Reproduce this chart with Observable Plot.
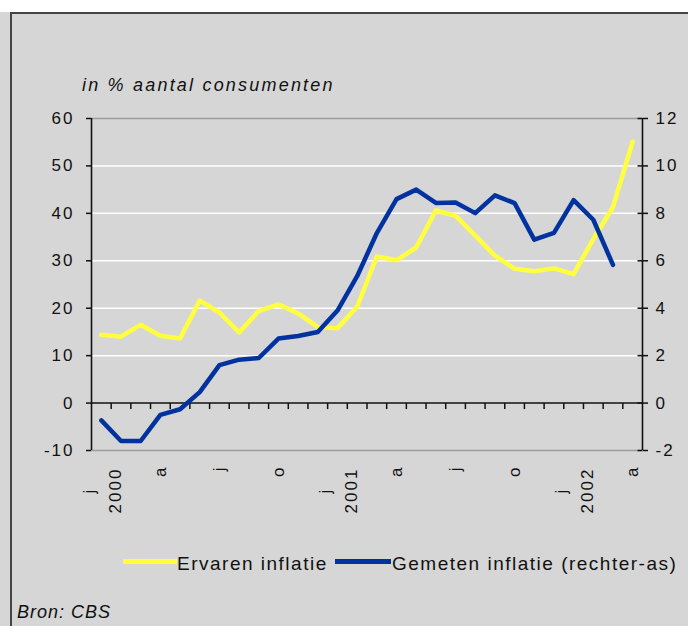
<!DOCTYPE html>
<html>
<head>
<meta charset="utf-8">
<script src="https://cdn.jsdelivr.net/npm/d3@7"></script>
<script src="https://cdn.jsdelivr.net/npm/@observablehq/plot@0.6"></script>
<style>
  html, body { margin: 0; padding: 0; }
  body { width: 688px; height: 626px; background: #d6d6d6; position: relative; overflow: hidden;
         font-family: "Liberation Sans", Arial, sans-serif; }
  #topstrip { position: absolute; left: 0; top: 0; width: 688px; height: 12px; background: #fff; }
  #frame { position: absolute; left: 10px; top: 12px; width: 720px; height: 700px; box-sizing: border-box;
           border-left: 2px solid #444; border-top: 2px solid #444; }
  #chart { position: absolute; left: 0; top: 0; }
  #chart svg text { font-family: "Liberation Sans", Arial, sans-serif; font-size: 17px; letter-spacing: 2px; fill: #111; }
  .t { position: absolute; white-space: nowrap; color: #111; line-height: 1; }
  .sw { position: absolute; height: 5px; }
</style>
</head>
<body>
<div id="topstrip"></div>
<div id="frame"></div>
<div id="chart"></div>
<div class="t" style="left:82px; top:76px; font-size:18px; font-style:italic; letter-spacing:2.2px;">in % aantal consumenten</div>
<div class="sw" style="left:123px; top:559px; width:54px; background:#ffff40;"></div>
<div class="t" style="left:177px; top:554px; font-size:19px; letter-spacing:1.5px;">Ervaren inflatie</div>
<div class="sw" style="left:335px; top:559px; width:56px; background:#0033a0;"></div>
<div class="t" style="left:392px; top:554px; font-size:19px; letter-spacing:1.5px;">Gemeten inflatie (rechter-as)</div>
<div class="t" style="left:17px; top:603px; font-size:18px; font-style:italic; letter-spacing:1px;">Bron: CBS</div>
<script>
// Periods: monthly, January 2000 – April 2002
const periods = [
  "2000-01","2000-02","2000-03","2000-04","2000-05","2000-06","2000-07","2000-08","2000-09","2000-10","2000-11","2000-12",
  "2001-01","2001-02","2001-03","2001-04","2001-05","2001-06","2001-07","2001-08","2001-09","2001-10","2001-11","2001-12",
  "2002-01","2002-02","2002-03","2002-04"
];
// Ervaren inflatie (left axis, % of consumers)
const ervaren = [14.4, 14.0, 16.5, 14.2, 13.6, 21.6, 19.1, 14.9, 19.4, 20.8, 18.9, 16.0,
                 15.8, 20.3, 30.9, 30.1, 32.8, 40.6, 39.5, 35.3, 31.1, 28.3, 27.8, 28.4,
                 27.2, 34.6, 41.3, 55.1];
// Gemeten inflatie (right axis, %)
const gemeten = [-0.73, -1.6, -1.6, -0.5, -0.26, 0.46, 1.6, 1.83, 1.9, 2.72, 2.83, 3.0,
                 3.9, 5.35, 7.17, 8.6, 9.0, 8.44, 8.46, 8.01, 8.76, 8.43, 6.89, 7.18,
                 8.56, 7.73, 5.83];
// Axis ticks
const leftTicks = [-10, 0, 10, 20, 30, 40, 50, 60];
const rightTicks = [-2, 0, 2, 4, 6, 8, 10, 12];
const gridValues = [10, 20, 30, 40, 50];
const labelIdx = [0, 3, 6, 9, 12, 15, 18, 21, 24, 27];
const labelMonth = ["j", "a", "j", "o", "j", "a", "j", "o", "j", "a"];
const yearIdx = [0, 12, 24];
const yearText = ["2000", "2001", "2002"];

const leftDomain = [leftTicks[0], leftTicks[leftTicks.length - 1]];
const rightDomain = [rightTicks[0], rightTicks[rightTicks.length - 1]];
const factor = (leftDomain[1] - leftDomain[0]) / (rightDomain[1] - rightDomain[0]);
const toLeft = v => leftDomain[0] + (v - rightDomain[0]) * factor;
const toRight = v => Math.round((v - leftDomain[0]) / factor + rightDomain[0]);

const n = periods.length;
const bounds = d3.range(1, n);
const ervData = ervaren.map((v, i) => ({i, v}));
const gemData = gemeten.map((v, i) => ({i, v}));
const monthOnly = labelIdx.map((d, k) => k).filter(k => !yearIdx.includes(labelIdx[k]));
const monthWithYear = labelIdx.map((d, k) => k).filter(k => yearIdx.includes(labelIdx[k]));

const tickDown = {draw(ctx) { ctx.moveTo(0, 0); ctx.lineTo(0, 6); }};
const tickIn = {draw(ctx) { ctx.moveTo(-5, 0); ctx.lineTo(0, 0); }};

const ink = "#111";
const chart = Plot.plot({
  width: 688, height: 626,
  marginLeft: 91, marginRight: 46, marginTop: 118, marginBottom: 176,
  style: {background: "transparent", color: ink, overflow: "visible"},
  x: {domain: [0, n], axis: null, label: null},
  y: {domain: leftDomain, axis: null, label: null},
  marks: [
    Plot.ruleY(gridValues, {stroke: "#ffffff", strokeWidth: 1.5}),
    Plot.ruleY(leftDomain, {stroke: "#9c9c9c", strokeWidth: 1.5}),
    Plot.ruleX([0, n], {stroke: ink, strokeWidth: 1.6}),
    Plot.ruleY([0], {stroke: ink, strokeWidth: 1.6}),
    Plot.dot(bounds, {x: d => d, y: 0, symbol: tickDown, stroke: ink, strokeWidth: 1.5, fill: "none"}),
    Plot.axisY({anchor: "left", ticks: leftTicks, tickSize: 5, tickPadding: 12, strokeWidth: 1.5,
      label: null, tickFormat: d => String(d)}),
    Plot.axisY(rightTicks.map(toLeft), {anchor: "right", tickSize: 5, tickPadding: 8, strokeWidth: 1.5,
      label: null, tickFormat: d => String(toRight(d))}),
    Plot.dot(rightTicks, {x: n, y: d => toLeft(d), symbol: tickIn, stroke: ink, strokeWidth: 1.5, fill: "none"}),
    Plot.line(ervData, {x: d => d.i + 0.5, y: d => d.v, stroke: "#ffff40", strokeWidth: 4.5, strokeLinejoin: "round", strokeLinecap: "round"}),
    Plot.line(gemData, {x: d => d.i + 0.5, y: d => toLeft(d.v), stroke: "#0033a0", strokeWidth: 4.5, strokeLinejoin: "round", strokeLinecap: "round"}),
    Plot.text(monthOnly, {x: k => labelIdx[k] + 0.5, text: k => labelMonth[k], frameAnchor: "bottom",
      rotate: -90, textAnchor: "end", lineAnchor: "middle", dy: 15}),
    Plot.text(monthWithYear, {x: k => labelIdx[k] + 0.5, text: k => labelMonth[k], frameAnchor: "bottom",
      rotate: -90, textAnchor: "middle", lineAnchor: "middle", dy: 40, dx: -12}),
    Plot.text(yearIdx.map((d, k) => k), {x: k => yearIdx[k] + 0.5, text: k => yearText[k], frameAnchor: "bottom",
      rotate: -90, textAnchor: "middle", lineAnchor: "middle", dy: 40, dx: 14})
  ]
});
document.getElementById("chart").appendChild(chart);
</script>
</body>
</html>
